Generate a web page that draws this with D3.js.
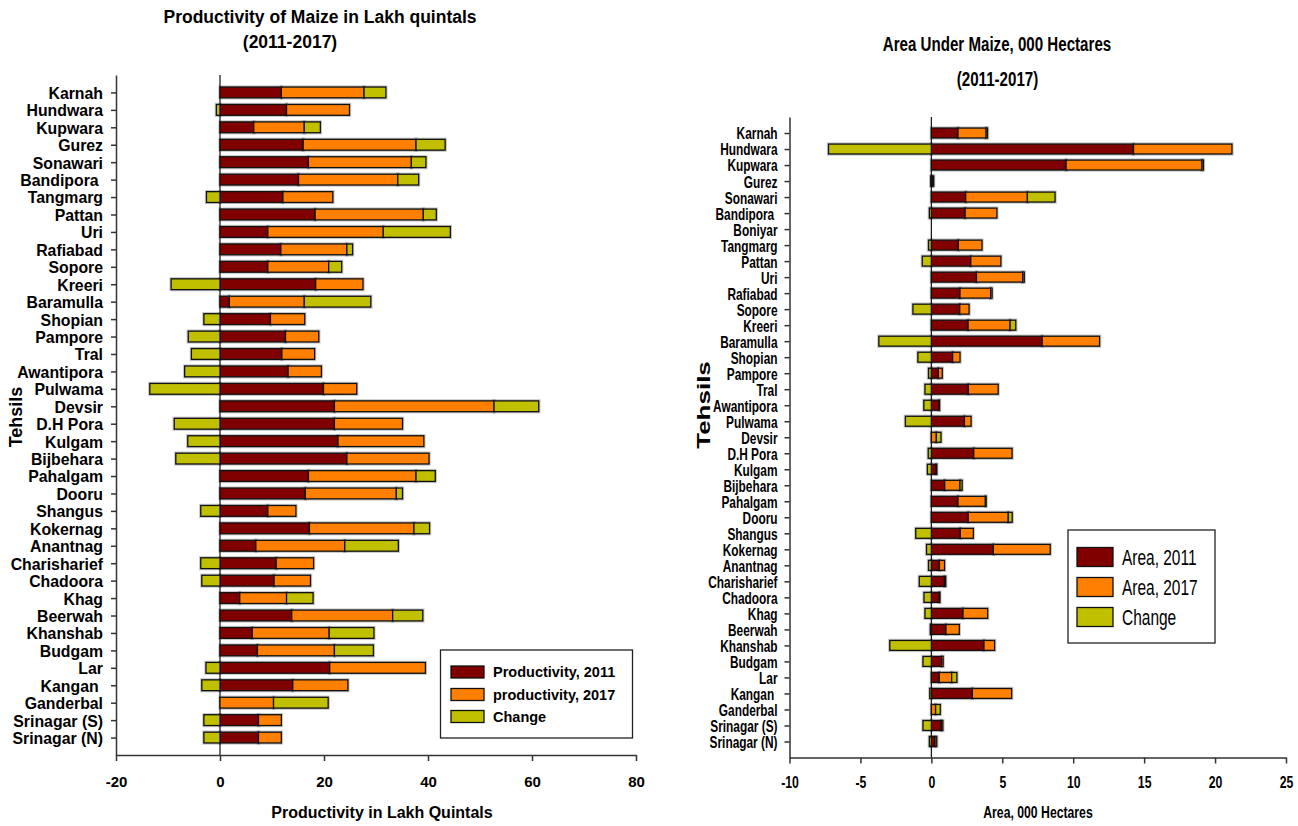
<!DOCTYPE html>
<html>
<head>
<meta charset="utf-8">
<script src="https://cdn.jsdelivr.net/npm/d3@7"></script>
<style>
  body { margin: 0; background: #fff; }
  svg { display: block; }
  text { white-space: pre; }
</style>
</head>
<body>
<svg id="chart" width="1298" height="826"></svg>
<script>
// ---------- Productivity panel data (Lakh quintals) ----------
const prodTehsils = ["Karnah", "Hundwara", "Kupwara", "Gurez", "Sonawari", "Bandipora ", "Tangmarg", "Pattan", "Uri",
  "Rafiabad", "Sopore", "Kreeri", "Baramulla", "Shopian", "Pampore", "Tral", "Awantipora", "Pulwama", "Devsir",
  "D.H Pora", "Kulgam", "Bijbehara", "Pahalgam", "Dooru", "Shangus", "Kokernag", "Anantnag", "Charisharief",
  "Chadoora", "Khag", "Beerwah", "Khanshab", "Budgam", "Lar", "Kangan ", "Ganderbal", "Srinagar (S)", "Srinagar (N)"];
const prod2011 = [11.8, 12.8, 6.5, 16.0, 17.0, 15.1, 12.1, 18.3, 9.2, 11.7, 9.2, 18.4, 1.8, 9.7, 12.6, 11.9, 13.1, 19.9, 22.0,
  22.0, 22.7, 24.4, 17.0, 16.4, 9.2, 17.2, 6.9, 10.8, 10.4, 3.8, 13.8, 6.2, 7.2, 21.1, 14.0, 0, 7.4, 7.4];
const prod2017 = [15.9, 12.1, 9.7, 21.7, 19.8, 19.1, 9.6, 20.8, 22.2, 12.7, 11.7, 9.1, 14.4, 6.6, 6.4, 6.3, 6.4, 6.4, 30.7,
  13.1, 16.5, 15.8, 20.7, 17.5, 5.4, 20.1, 17.1, 7.2, 7.0, 9.0, 19.4, 14.8, 14.8, 18.4, 10.6, 10.3, 4.4, 4.4];
const prodChange = [4.2, -0.7, 3.1, 5.6, 2.8, 4.0, -2.6, 2.5, 12.9, 1.1, 2.5, -9.4, 12.8, -3.1, -6.1, -5.5, -6.8, -13.5, 8.6,
  -8.8, -6.2, -8.5, 3.7, 1.2, -3.7, 3.0, 10.3, -3.7, -3.5, 5.1, 5.8, 8.6, 7.5, -2.7, -3.5, 10.5, -3.1, -3.1];
const prodTicks = [-20, 0, 20, 40, 60, 80];
const prodLegend = ["Productivity, 2011", "productivity, 2017", "Change"];

// ---------- Area panel data (000 hectares) ----------
const areaTehsils = ["Karnah", "Hundwara", "Kupwara", "Gurez", "Sonawari", "Bandipora ", "Boniyar", "Tangmarg", "Pattan",
  "Uri", "Rafiabad", "Sopore", "Kreeri", "Baramulla", "Shopian", "Pampore", "Tral", "Awantipora", "Pulwama", "Devsir",
  "D.H Pora", "Kulgam", "Bijbehara", "Pahalgam", "Dooru", "Shangus", "Kokernag", "Anantnag", "Charisharief",
  "Chadoora", "Khag", "Beerwah", "Khanshab", "Budgam", "Lar", "Kangan ", "Ganderbal", "Srinagar (S)", "Srinagar (N)"];
const area2011 = [1.88, 14.25, 9.5, 0.1, 2.42, 2.38, 0, 1.9, 2.78, 3.18, 2.02, 2.0, 2.59, 7.81, 1.5, 0.49, 2.61, 0.55, 2.33, 0,
  2.99, 0.33, 0.94, 1.88, 2.6, 2.04, 4.37, 0.57, 0.93, 0.56, 2.23, 1.03, 3.71, 0.73, 0.56, 2.89, 0, 0.7, 0.26];
const area2017 = [1.98, 6.94, 9.58, 0.06, 4.35, 2.24, 0, 1.67, 2.12, 3.27, 2.16, 0.66, 2.96, 4.05, 0.52, 0.28, 2.1, 0.02, 0.47, 0.35,
  2.7, 0.05, 1.08, 1.93, 2.82, 0.92, 4.01, 0.36, 0.08, 0.04, 1.74, 0.94, 0.75, 0.1, 0.87, 2.77, 0.3, 0.11, 0.12];
const areaChange = [0.1, -7.25, 0.1, -0.04, 1.95, -0.14, 0, -0.2, -0.64, 0.1, 0.1, -1.3, 0.4, -3.7, -0.95, -0.2, -0.45, -0.53, -1.83, 0.33,
  -0.22, -0.28, 0.15, 0.05, 0.28, -1.1, -0.34, -0.2, -0.85, -0.52, -0.45, -0.07, -2.93, -0.59, 0.37, -0.11, 0.33, -0.59, -0.14];
const areaTicks = [-10, -5, 0, 5, 10, 15, 20, 25];
const areaLegend = ["Area, 2011", "Area, 2017", "Change"];

const seriesColors = ["#800000", "#FF8000", "#C0C000"];
const FONT = "'Liberation Sans', Arial, Helvetica, sans-serif";
const svg = d3.select("#chart");

// place a text element at (x,y) with an optional horizontal squeeze
function placeText(g, str, x, y, o) {
  const sx = o.sx || 1;
  let tr = `translate(${x},${y}) scale(${sx},1)`;
  if (o.rotate) tr += ` rotate(${o.rotate})`;
  return g.append("text")
    .attr("transform", tr)
    .attr("text-anchor", o.anchor || "middle")
    .attr("font-family", FONT)
    .attr("font-size", o.size)
    .attr("font-weight", o.weight || "bold")
    .attr("fill", "#000")
    .text(str);
}

function drawPanel(p) {
  const g = svg.append("g");
  const x = d3.scaleLinear().domain(p.xDomain).range(p.xRange);
  const y = d3.scalePoint().domain(p.cats).range(p.yRange).padding(1);
  const bh = y.step() * 0.62;

  // stacked segments: 2011, 2017 on top of it, change after (or left of zero when negative)
  const segs = [];
  p.cats.forEach((c, i) => {
    const a = p.s1[i], b = p.s2[i], d = p.s3[i];
    segs.push({ c, k: 0, x0: 0, x1: a });
    segs.push({ c, k: 1, x0: a, x1: a + b });
    segs.push({ c, k: 2, x0: d >= 0 ? a + b : d, x1: d >= 0 ? a + b + d : 0 });
  });
  const vis = segs.filter(s => s.x1 - s.x0 > 0);

  // soft halo around bars
  g.append("g").selectAll("rect").data(vis).join("rect")
    .attr("x", s => x(s.x0)).attr("y", s => y(s.c) - bh / 2)
    .attr("width", s => x(s.x1) - x(s.x0)).attr("height", bh)
    .attr("fill", "none").attr("stroke", "#000").attr("stroke-opacity", 0.22).attr("stroke-width", 3.4);

  // zero line
  g.append("line")
    .attr("x1", x(0)).attr("x2", x(0)).attr("y1", p.yRange[0]).attr("y2", p.yRange[1])
    .attr("stroke", "#111").attr("stroke-width", 1.2);

  // bars
  g.append("g").selectAll("rect").data(vis).join("rect")
    .attr("x", s => x(s.x0)).attr("y", s => y(s.c) - bh / 2)
    .attr("width", s => x(s.x1) - x(s.x0)).attr("height", bh)
    .attr("fill", s => seriesColors[s.k])
    .attr("stroke", "#111").attr("stroke-width", 1.3);

  // category axis
  const ya = g.append("g").attr("transform", `translate(${p.xRange[0]},0)`)
    .call(d3.axisLeft(y).tickSize(5).tickSizeOuter(0));
  ya.select(".domain").attr("stroke", "#333").attr("stroke-width", 1.5);
  ya.selectAll(".tick line").attr("stroke", "#333").attr("stroke-width", 1.5);
  ya.selectAll(".tick text")
    .attr("x", -p.labelGap / p.labelSx).attr("dy", "0.36em")
    .attr("transform", `scale(${p.labelSx},1)`)
    .attr("font-family", FONT).attr("font-size", p.labelSize).attr("font-weight", "bold").attr("fill", "#000");

  // value axis
  const xa = g.append("g").attr("transform", `translate(0,${p.yRange[1]})`)
    .call(d3.axisBottom(x).tickValues(p.ticks).tickSize(6).tickSizeOuter(0).tickFormat(d => String(d)));
  xa.select(".domain").attr("stroke", "#333").attr("stroke-width", 1.5);
  xa.selectAll(".tick line").attr("stroke", "#333").attr("stroke-width", 1.5);
  xa.selectAll(".tick text")
    .attr("y", p.tickY - p.yRange[1]).attr("dy", null)
    .attr("transform", `scale(${p.sx},1)`)
    .attr("font-family", FONT).attr("font-size", p.tickSize).attr("font-weight", "bold").attr("fill", "#000");

  // titles
  p.titles.forEach(t => placeText(g, t.text, t.x, t.y, t));

  // legend
  const L = p.legend;
  const lg = g.append("g");
  lg.append("rect").attr("x", L.x).attr("y", L.y).attr("width", L.w).attr("height", L.h)
    .attr("fill", "#fff").attr("stroke", "#222").attr("stroke-width", 1.3);
  L.labels.forEach((lab, i) => {
    lg.append("rect").attr("x", L.swX).attr("y", L.rows[i] - L.swH / 2)
      .attr("width", L.swW).attr("height", L.swH)
      .attr("fill", seriesColors[i]).attr("stroke", "#111").attr("stroke-width", 1.3);
    placeText(lg, lab, L.textX, L.rows[i] + L.size * 0.36,
      { size: L.size, weight: L.weight, anchor: "start", sx: p.sx });
  });
}

drawPanel({
  cats: prodTehsils, s1: prod2011, s2: prod2017, s3: prodChange,
  xDomain: [-20, 80], xRange: [116, 636], yRange: [75, 755], ticks: prodTicks,
  sx: 1, labelSx: 0.96, labelGap: 13, labelSize: 16.5, tickSize: 15, tickY: 787,
  titles: [
    { text: "Productivity of Maize in Lakh quintals", x: 320, y: 23, size: 17.5 },
    { text: "(2011-2017)", x: 290, y: 48, size: 17.5 },
    { text: "Productivity in Lakh Quintals", x: 382, y: 818, size: 16 },
    { text: "Tehsils", x: 21.5, y: 417, size: 18, rotate: -90 }
  ],
  legend: { x: 440.5, y: 650, w: 192, h: 88, swX: 451, swW: 33, swH: 12, rows: [672, 694.5, 716.5],
    textX: 493, size: 14.5, weight: "bold", labels: prodLegend }
});

drawPanel({
  cats: areaTehsils, s1: area2011, s2: area2017, s3: areaChange,
  xDomain: [-10, 25], xRange: [789.5, 1286], yRange: [117, 757.5], ticks: areaTicks,
  sx: 0.72, labelSx: 0.72, labelGap: 12, labelSize: 16.5, tickSize: 17, tickY: 788,
  titles: [
    { text: "Area Under Maize, 000 Hectares", x: 997, y: 51, size: 21, sx: 0.72 },
    { text: "(2011-2017)", x: 997.5, y: 86, size: 21, sx: 0.72 },
    { text: "Area, 000 Hectares", x: 1038, y: 818, size: 17, sx: 0.72 },
    { text: "Tehsils", x: 710, y: 405, size: 26, sx: 0.72, rotate: -90 }
  ],
  legend: { x: 1068, y: 530, w: 147, h: 113, swX: 1077, swW: 36, swH: 19, rows: [557, 587, 617],
    textX: 1122, size: 21.5, weight: "normal", labels: areaLegend }
});
</script>
</body>
</html>
